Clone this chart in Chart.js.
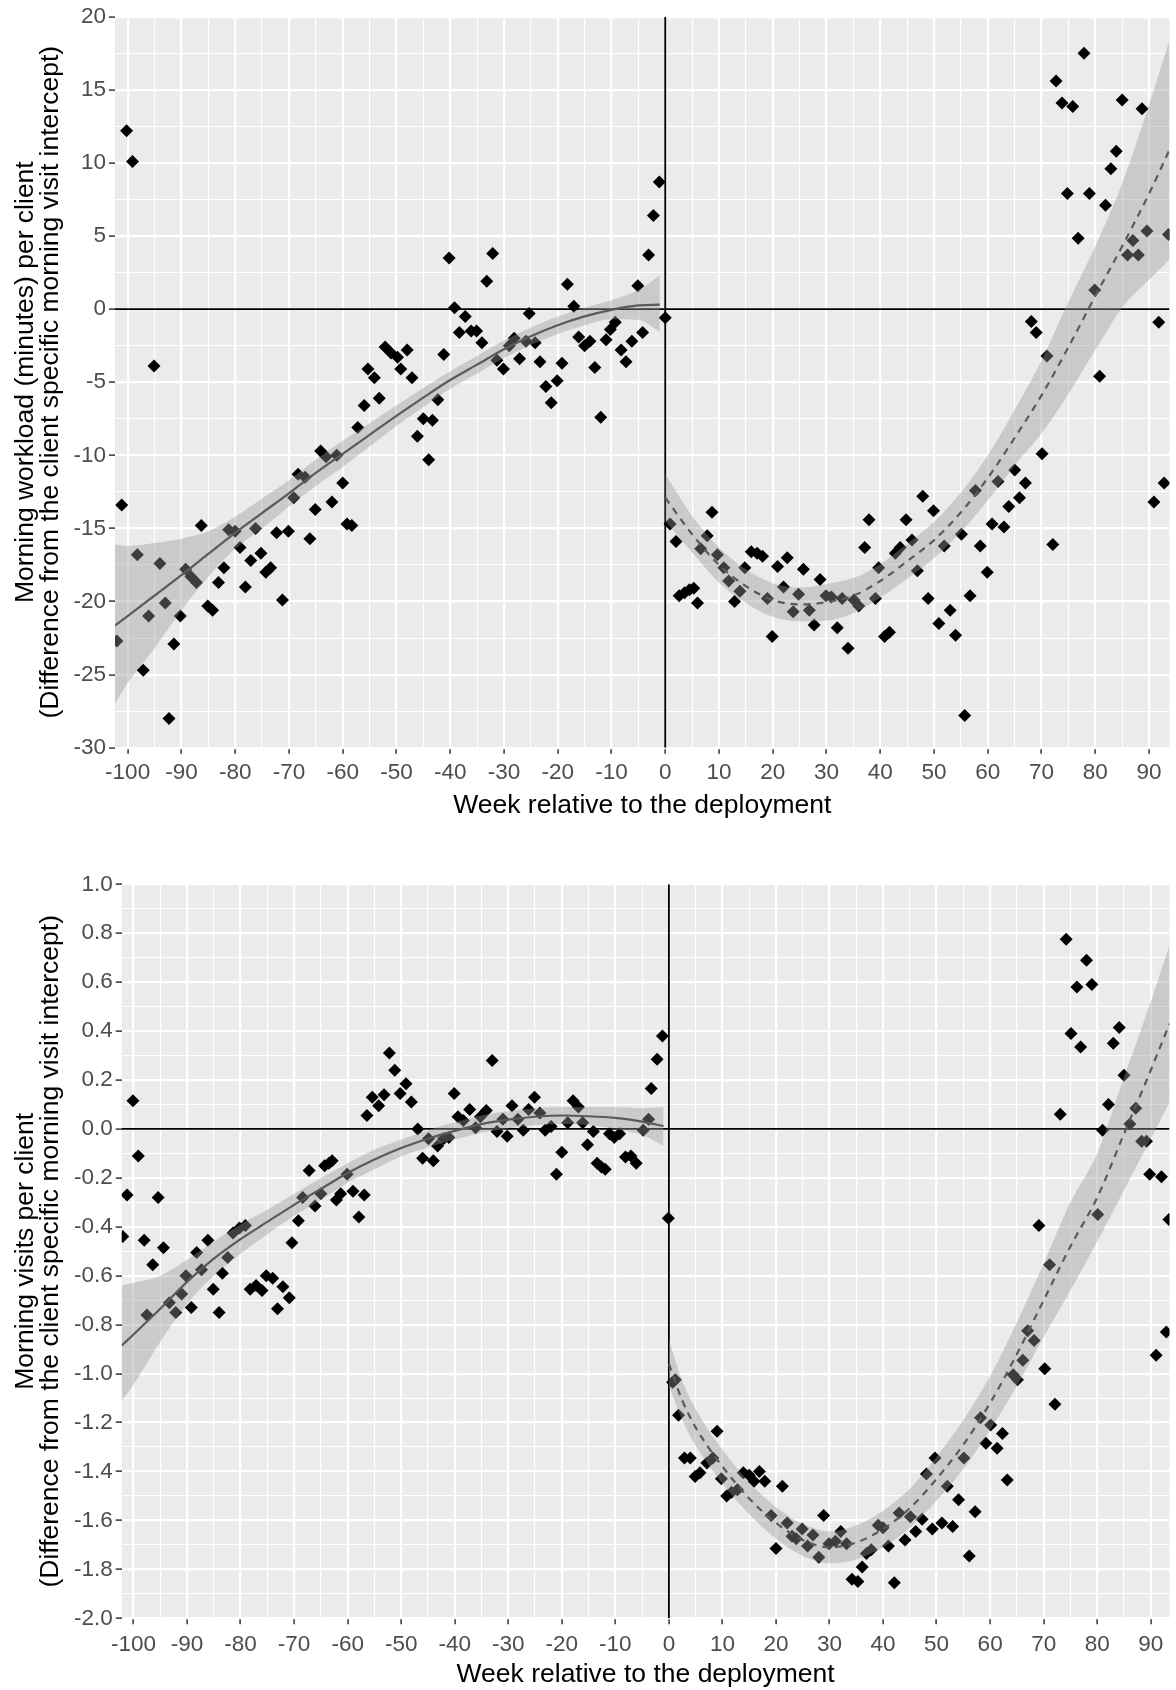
<!DOCTYPE html>
<html>
<head>
<meta charset="utf-8">
<script src="https://cdn.jsdelivr.net/npm/chart.js@4/dist/chart.umd.min.js"></script>
<style>
  body { margin: 0; background: #ffffff; }
  #wrap { position: relative; width: 1176px; height: 1690px; }
  canvas { position: absolute; left: 0; }
</style>
</head>
<body>
<div id="wrap">
  <canvas id="workloadChart" width="1176" height="830" style="top:0px"></canvas>
  <canvas id="visitsChart" width="1176" height="860" style="top:830px"></canvas>
</div>
<script>
// axis ticks (shared x axis: weeks relative to deployment)
const xMajorTicks = [-100, -90, -80, -70, -60, -50, -40, -30, -20, -10, 0, 10, 20, 30, 40, 50, 60, 70, 80, 90];
const xMinorTicks = [-95, -85, -75, -65, -55, -45, -35, -25, -15, -5, 5, 15, 25, 35, 45, 55, 65, 75, 85];
const workloadYTicks = [-30, -25, -20, -15, -10, -5, 0, 5, 10, 15, 20];
const workloadYMinor = [-27.5, -22.5, -17.5, -12.5, -7.5, -2.5, 2.5, 7.5, 12.5, 17.5];
const visitsYTicks = [-2.0, -1.8, -1.6, -1.4, -1.2, -1.0, -0.8, -0.6, -0.4, -0.2, 0.0, 0.2, 0.4, 0.6, 0.8, 1.0];
const visitsYMinor = [-1.9, -1.7, -1.5, -1.3, -1.1, -0.9, -0.7, -0.5, -0.3, -0.1, 0.1, 0.3, 0.5, 0.7, 0.9];

// --- morning workload: weekly points ---
const workloadPreWeeks = [
  -102.0, -101.1, -100.2, -99.1, -98.2, -97.1, -96.1, -95.1, -94.0, -93.0,
  -92.3, -91.4, -90.2, -89.2, -88.2, -87.2, -86.3, -85.1, -84.2, -83.1,
  -82.1, -81.2, -80.0, -79.1, -78.1, -77.1, -76.2, -75.2, -74.3, -73.4,
  -72.3, -71.2, -70.1, -69.1, -68.3, -67.0, -66.1, -65.1, -64.1, -63.1,
  -62.0, -61.1, -60.0, -59.2, -58.3, -57.2, -56.0, -55.3, -54.1, -53.2,
  -52.1, -51.0, -49.8, -49.2, -48.0, -47.1, -46.1, -45.0, -44.0, -43.3,
  -42.3, -41.2, -40.2, -39.2, -38.3, -37.2, -36.1, -35.1, -34.1, -33.2,
  -32.1, -31.3, -30.1, -29.0, -28.1, -27.1, -25.9, -25.3, -24.2, -23.3,
  -22.2, -21.2, -20.1, -19.2, -18.2, -17.0, -16.1, -15.0, -14.0, -13.1,
  -12.0, -11.0, -10.2, -9.3, -8.2, -7.3, -6.2, -5.1, -4.2, -3.1,
  -2.2, -1.1, 0.0];
const workloadPreValues = [
  -22.7, -13.4, 12.2, 10.1, -16.8, -24.7, -21.0, -3.9, -17.4, -20.1,
  -28.0, -22.9, -21.0, -17.8, -18.3, -18.7, -14.8, -20.3, -20.6, -18.7,
  -17.7, -15.1, -15.2, -16.3, -19.0, -17.2, -15.0, -16.7, -18.0, -17.7,
  -15.3, -19.9, -15.2, -12.9, -11.3, -11.5, -15.7, -13.7, -9.7, -10.1,
  -13.2, -10.0, -11.9, -14.7, -14.8, -8.1, -6.6, -4.1, -4.7, -6.1,
  -2.6, -3.0, -3.3, -4.1, -2.8, -4.7, -8.7, -7.5, -10.3, -7.6,
  -6.2, -3.1, 3.5, 0.1, -1.6, -0.5, -1.5, -1.5, -2.3, 1.9,
  3.8, -3.5, -4.1, -2.5, -2.0, -3.4, -2.2, -0.3, -2.3, -3.6,
  -5.3, -6.4, -4.9, -3.7, 1.7, 0.2, -1.9, -2.5, -2.2, -4.0,
  -7.4, -2.1, -1.4, -0.9, -2.8, -3.6, -2.2, 1.6, -1.6, 3.7,
  6.4, 8.7, -0.6];
const workloadPostWeeks = [
  0.9, 2.0, 2.6, 3.6, 4.5, 5.3, 6.0, 6.6, 7.8, 8.7,
  9.7, 10.9, 11.8, 12.9, 13.9, 14.8, 16.0, 17.1, 18.1, 19.0,
  19.9, 20.9, 22.0, 22.7, 23.8, 24.8, 25.7, 26.8, 27.7, 28.8,
  29.9, 30.9, 32.0, 32.9, 34.0, 35.1, 36.0, 37.1, 37.9, 39.1,
  39.7, 40.8, 41.7, 42.8, 43.7, 44.8, 45.9, 46.9, 47.9, 48.9,
  49.9, 50.9, 51.9, 53.0, 54.0, 55.1, 55.7, 56.7, 57.7, 58.6,
  59.9, 60.8, 61.9, 63.0, 63.9, 65.0, 65.9, 67.0, 68.1, 69.0,
  70.1, 71.0, 72.1, 72.7, 73.8, 74.8, 75.8, 76.8, 77.9, 78.9,
  79.9, 80.8, 81.9, 82.9, 83.9, 85.0, 86.0, 87.0, 88.0, 88.7,
  89.6, 90.9, 91.8, 92.8, 93.6];
const workloadPostValues = [
  -14.7, -15.9, -19.6, -19.4, -19.2, -19.1, -20.1, -16.4, -15.5, -13.9,
  -16.8, -17.7, -18.6, -20.0, -19.3, -17.7, -16.6, -16.7, -16.9, -19.8,
  -22.4, -17.6, -19.0, -17.0, -20.7, -19.5, -17.8, -20.6, -21.6, -18.5,
  -19.6, -19.7, -21.8, -19.8, -23.2, -19.9, -20.3, -16.3, -14.4, -19.8,
  -17.7, -22.4, -22.1, -16.7, -16.3, -14.4, -15.8, -17.9, -12.8, -19.8,
  -13.8, -21.5, -16.2, -20.6, -22.3, -15.4, -27.8, -19.6, -12.4, -16.2,
  -18.0, -14.7, -11.8, -14.9, -13.5, -11.0, -12.9, -11.9, -0.85, -1.6,
  -9.9, -3.2, -16.1, 15.6, 14.1, 7.9, 13.85, 4.85, 17.5, 7.9,
  1.3, -4.6, 7.1, 9.6, 10.8, 14.3, 3.7, 4.7, 3.7, 13.7,
  5.35, -13.2, -0.9, -11.9, 5.1];

// smoothed fits (line + confidence band)
const workloadFitPreWeeks = [-102.35, -100, -95, -90, -85, -80, -75, -70, -65, -60, -55, -50, -45, -40, -35, -30, -25, -20, -15, -10, -5, -1];
const workloadFitPre = [-21.65, -21.0, -19.6, -18.2, -16.75, -15.3, -13.95, -12.6, -11.2, -9.9, -8.6, -7.3, -6.05, -4.85, -3.8, -2.75, -1.85, -1.1, -0.5, -0.05, 0.25, 0.3];
const workloadBandPreLow = [-27.0, -25.6, -23.2, -20.6, -18.3, -16.4, -15.0, -13.5, -12.1, -10.8, -9.4, -8.0, -6.7, -5.45, -4.4, -3.35, -2.45, -1.7, -1.1, -0.7, -0.75, -1.55];
const workloadBandPreHigh = [-16.1, -16.2, -16.0, -15.7, -15.2, -14.2, -12.95, -11.7, -10.3, -9.0, -7.8, -6.6, -5.4, -4.25, -3.2, -2.15, -1.25, -0.5, 0.1, 0.6, 1.3, 2.3];
const workloadFitPostWeeks = [0, 5, 10, 15, 20, 25, 30, 35, 40, 45, 50, 55, 60, 65, 70, 75, 80, 85, 90, 93.8];
const workloadFitPost = [-12.9, -15.4, -17.5, -18.95, -19.9, -20.2, -20.05, -19.6, -18.6, -17.25, -15.8, -13.9, -11.55, -8.8, -5.9, -2.6, 0.9, 4.3, 7.9, 10.9];
const workloadBandPostLow = [-14.5, -16.65, -18.7, -20.1, -21.05, -21.35, -21.3, -20.8, -19.75, -18.45, -17.05, -15.25, -13.1, -10.7, -8.5, -5.8, -2.8, 0.1, 2.0, 3.4];
const workloadBandPostHigh = [-11.3, -14.15, -16.3, -17.8, -18.75, -19.05, -18.8, -18.4, -17.45, -16.05, -14.55, -12.55, -10.0, -6.9, -3.5, 0.5, 4.3, 8.6, 14.0, 18.4];

// --- morning visits: weekly points ---
const visitsPreWeeks = [
  -102.0, -101.2, -100.1, -99.1, -98.0, -97.5, -96.4, -95.4, -94.4, -93.3,
  -92.1, -91.0, -90.2, -89.2, -88.2, -87.3, -86.1, -85.1, -84.0, -83.4,
  -82.4, -81.4, -80.2, -79.1, -78.2, -77.1, -76.0, -75.2, -74.0, -73.1,
  -72.1, -70.9, -70.4, -69.2, -68.4, -67.2, -66.1, -65.0, -64.3, -63.5,
  -62.9, -62.1, -61.3, -60.1, -59.0, -57.9, -56.9, -56.4, -55.4, -54.2,
  -53.2, -52.2, -51.2, -50.2, -49.1, -48.1, -46.9, -46.0, -44.9, -44.0,
  -43.2, -42.1, -41.1, -40.1, -39.4, -38.4, -37.2, -36.1, -35.2, -34.1,
  -33.0, -32.1, -31.0, -30.2, -29.3, -28.2, -27.2, -26.2, -25.1, -24.1,
  -23.1, -22.0, -21.0, -20.0, -18.9, -17.9, -16.9, -16.1, -15.2, -14.1,
  -13.4, -12.6, -11.9, -11.1, -10.2, -9.2, -8.1, -7.1, -6.1, -4.8,
  -3.8, -3.3, -2.2, -1.2, -0.1];
const visitsPreValues = [
  -0.44, -0.27, 0.115, -0.11, -0.455, -0.76, -0.555, -0.28, -0.485, -0.71,
  -0.75, -0.675, -0.6, -0.73, -0.505, -0.575, -0.455, -0.655, -0.75, -0.59,
  -0.525, -0.425, -0.405, -0.395, -0.655, -0.64, -0.66, -0.6, -0.61, -0.735,
  -0.645, -0.69, -0.465, -0.375, -0.28, -0.17, -0.315, -0.265, -0.15, -0.14,
  -0.13, -0.29, -0.265, -0.185, -0.255, -0.36, -0.27, 0.055, 0.13, 0.095,
  0.14, 0.31, 0.24, 0.145, 0.185, 0.11, 0.0, -0.12, -0.04, -0.13,
  -0.07, -0.04, -0.035, 0.145, 0.05, 0.035, 0.08, 0.005, 0.05, 0.075,
  0.28, -0.01, 0.04, -0.03, 0.095, 0.04, -0.005, 0.08, 0.13, 0.065,
  -0.005, 0.01, -0.185, -0.095, 0.025, 0.115, 0.09, 0.025, -0.065, -0.01,
  -0.14, -0.155, -0.165, -0.02, -0.035, -0.02, -0.115, -0.11, -0.14, -0.005,
  0.04, 0.165, 0.285, 0.38, -0.365];
const visitsPostWeeks = [
  0.7, 1.2, 1.8, 2.9, 4.0, 4.9, 5.8, 7.1, 8.2, 9.0,
  9.8, 10.8, 11.7, 12.8, 13.9, 15.0, 15.9, 16.9, 17.9, 19.1,
  20.0, 21.2, 22.1, 23.0, 23.8, 24.9, 25.9, 26.9, 28.0, 28.9,
  29.9, 31.1, 32.1, 33.2, 34.2, 35.3, 36.1, 36.9, 37.8, 39.1,
  40.0, 41.0, 42.1, 43.0, 44.1, 45.1, 46.1, 47.3, 48.1, 49.2,
  49.7, 51.0, 52.0, 53.0, 54.1, 55.1, 56.1, 57.2, 58.2, 59.2,
  60.1, 61.3, 62.3, 63.2, 64.3, 65.1, 66.1, 67.0, 68.2, 69.1,
  70.2, 71.1, 72.1, 73.1, 74.2, 75.1, 76.2, 76.9, 78.0, 79.0,
  80.1, 81.0, 82.1, 83.0, 84.1, 85.0, 86.1, 87.2, 88.3, 89.2,
  89.8, 91.0, 92.0, 92.9, 93.4];
const visitsPostValues = [
  -1.035, -1.025, -1.17, -1.345, -1.345, -1.42, -1.405, -1.365, -1.345, -1.235,
  -1.43, -1.5, -1.485, -1.475, -1.405, -1.415, -1.44, -1.4, -1.44, -1.58,
  -1.715, -1.46, -1.61, -1.665, -1.675, -1.635, -1.705, -1.66, -1.75, -1.58,
  -1.695, -1.685, -1.645, -1.695, -1.84, -1.85, -1.79, -1.735, -1.72, -1.62,
  -1.63, -1.705, -1.855, -1.57, -1.68, -1.585, -1.645, -1.595, -1.41, -1.635,
  -1.345, -1.61, -1.46, -1.625, -1.515, -1.345, -1.745, -1.565, -1.18, -1.285,
  -1.21, -1.305, -1.245, -1.435, -1.005, -1.025, -0.945, -0.825, -0.865, -0.395,
  -0.98, -0.555, -1.125, 0.06, 0.775, 0.39, 0.58, 0.335, 0.69, 0.59,
  -0.35, -0.005, 0.1, 0.35, 0.415, 0.22, 0.02, 0.085, -0.05, -0.05,
  -0.185, -0.925, -0.195, -0.83, -0.37];

const visitsFitPreWeeks = [-102.2, -100, -95, -90, -85, -80, -75, -70, -65, -60, -55, -50, -45, -40, -35, -30, -25, -20, -15, -10, -5, -1];
const visitsFitPre = [-0.885, -0.84, -0.735, -0.625, -0.53, -0.45, -0.38, -0.31, -0.245, -0.18, -0.125, -0.078, -0.04, -0.008, 0.02, 0.038, 0.05, 0.055, 0.052, 0.045, 0.03, 0.012];
const visitsBandPreLow = [-1.11, -1.045, -0.87, -0.715, -0.6, -0.51, -0.43, -0.355, -0.29, -0.22, -0.165, -0.113, -0.075, -0.043, -0.015, 0.003, 0.015, 0.02, 0.015, 0.0, -0.025, -0.07];
const visitsBandPreHigh = [-0.64, -0.63, -0.6, -0.535, -0.46, -0.39, -0.33, -0.265, -0.2, -0.14, -0.085, -0.043, -0.005, 0.027, 0.055, 0.073, 0.085, 0.09, 0.09, 0.09, 0.085, 0.09];
const visitsFitPostWeeks = [0, 2.5, 5, 7.5, 10, 15, 20, 25, 30, 35, 40, 45, 50, 55, 60, 65, 70, 75, 80, 85, 90, 93.5];
const visitsFitPost = [-0.96, -1.11, -1.22, -1.305, -1.38, -1.51, -1.61, -1.68, -1.71, -1.69, -1.635, -1.55, -1.43, -1.29, -1.12, -0.92, -0.70, -0.48, -0.28, -0.02, 0.24, 0.43];
const visitsBandPostLow = [-1.05, -1.19, -1.295, -1.375, -1.45, -1.575, -1.675, -1.745, -1.775, -1.76, -1.71, -1.63, -1.52, -1.39, -1.23, -1.05, -0.85, -0.66, -0.46, -0.25, -0.04, 0.11];
const visitsBandPostHigh = [-0.86, -1.03, -1.145, -1.235, -1.31, -1.445, -1.545, -1.615, -1.645, -1.62, -1.56, -1.47, -1.34, -1.19, -1.01, -0.79, -0.55, -0.30, -0.10, 0.21, 0.52, 0.75];

Chart.defaults.font.family = "'Liberation Sans', Arial, sans-serif";

const BAND = 'rgba(153,153,153,0.4)';
const FIT = '#5a5a5a';

function pts(xs, ys) {
  return xs.map((x, i) => ({ x: x, y: ys[i] }));
}
function near(list, v) {
  return list.some(m => Math.abs(m - v) < 1e-6);
}

// grey ggplot panel behind the grid
const panelBg = {
  id: 'panelBg',
  beforeDraw(chart) {
    const { ctx, chartArea: a } = chart;
    ctx.save();
    ctx.fillStyle = '#ebebeb';
    ctx.fillRect(a.left, a.top, a.right - a.left, a.bottom - a.top);
    ctx.restore();
  }
};

function lineSet(data, extra) {
  return Object.assign({
    data: data, showLine: true, pointRadius: 0, borderWidth: 2.2,
    borderColor: FIT, cubicInterpolationMode: 'monotone', clip: 0, order: 0
  }, extra);
}
function bandSet(data, fill) {
  return {
    data: data, showLine: true, pointRadius: 0, borderWidth: 0,
    borderColor: 'rgba(0,0,0,0)', backgroundColor: BAND, fill: fill,
    cubicInterpolationMode: 'monotone', clip: 0, order: 1
  };
}
function pointSet(data) {
  return {
    data: data, pointStyle: 'rectRot', pointRadius: 6.5, pointBorderWidth: 0,
    pointBackgroundColor: '#000000', clip: 0, order: 2
  };
}

function makeChart(id, o) {
  const allX = xMinorTicks.concat(xMajorTicks).sort((a, b) => a - b);
  const allY = o.yMinor.concat(o.yMajor).sort((a, b) => a - b);

  new Chart(document.getElementById(id), {
    type: 'scatter',
    data: {
      datasets: [
        lineSet(pts(o.fitPreX, o.fitPre)),
        lineSet(pts(o.fitPostX, o.fitPost), { borderDash: [7, 6] }),
        bandSet(pts(o.fitPreX, o.bandPreLow), false),
        bandSet(pts(o.fitPreX, o.bandPreHigh), '-1'),
        bandSet(pts(o.fitPostX, o.bandPostLow), false),
        bandSet(pts(o.fitPostX, o.bandPostHigh), '-1'),
        pointSet(pts(o.preX, o.preY)),
        pointSet(pts(o.postX, o.postY)),
        lineSet([{ x: 0, y: o.yMin }, { x: 0, y: o.yMax }], { borderColor: '#000', borderWidth: 1.8, order: 3 }),
        lineSet([{ x: o.xMin, y: 0 }, { x: o.xMax, y: 0 }], { borderColor: '#000', borderWidth: 1.8, order: 3 })
      ]
    },
    options: {
      responsive: false,
      animation: false,
      events: [],
      layout: { padding: { top: o.padTop, right: 0, bottom: 0, left: 0 } },
      plugins: { legend: { display: false }, tooltip: { enabled: false } },
      scales: {
        x: {
          type: 'linear',
          min: o.xMin,
          max: o.xMax,
          afterBuildTicks: s => { s.ticks = allX.map(v => ({ value: v })); },
          afterFit: s => { s.height = o.xAxisHeight; },
          border: { display: false },
          grid: {
            color: '#ffffff',
            lineWidth: c => (c.tick && near(xMajorTicks, c.tick.value)) ? 2.2 : 1.1,
            drawTicks: true,
            tickLength: 6,
            tickWidth: 1.5,
            tickColor: c => (c.tick && near(xMajorTicks, c.tick.value)) ? '#333333' : 'rgba(0,0,0,0)'
          },
          ticks: {
            autoSkip: false,
            maxRotation: 0,
            minRotation: 0,
            padding: o.xTickPad,
            color: '#4d4d4d',
            font: { size: 22.5 },
            callback: v => near(xMajorTicks, v) ? String(v) : ''
          },
          title: {
            display: true,
            text: 'Week relative to the deployment',
            color: '#000000',
            font: { size: 26.5, lineHeight: 1 },
            padding: { top: 0, bottom: o.xTitlePad }
          }
        },
        y: {
          type: 'linear',
          min: o.yMin,
          max: o.yMax,
          afterBuildTicks: s => { s.ticks = allY.map(v => ({ value: v })); },
          afterFit: s => { s.width = o.yAxisWidth; },
          border: { display: false },
          grid: {
            color: '#ffffff',
            lineWidth: c => (c.tick && near(o.yMajor, c.tick.value)) ? 2.2 : 1.1,
            drawTicks: true,
            tickLength: 6,
            tickWidth: 1.5,
            tickColor: c => (c.tick && near(o.yMajor, c.tick.value)) ? '#333333' : 'rgba(0,0,0,0)'
          },
          ticks: {
            autoSkip: false,
            padding: 3,
            color: '#4d4d4d',
            font: { size: 22.5 },
            callback: v => near(o.yMajor, v) ? o.fmt(v) : ''
          },
          title: {
            display: true,
            text: o.yTitle,
            color: '#000000',
            font: { size: 26.5, lineHeight: '25px' },
            padding: { top: 13.3, bottom: 0 }
          }
        }
      }
    },
    plugins: [panelBg]
  });
}

makeChart('workloadChart', {
  xMin: -102.35, xMax: 93.8, yMin: -30, yMax: 20,
  yMajor: workloadYTicks, yMinor: workloadYMinor,
  fmt: v => String(v),
  padTop: 16.7, xAxisHeight: 82.3, yAxisWidth: 115, xTickPad: 5.5, xTitlePad: 11.5,
  yTitle: ['Morning workload (minutes) per client', '(Difference from the client specific morning visit intercept)'],
  preX: workloadPreWeeks, preY: workloadPreValues,
  postX: workloadPostWeeks, postY: workloadPostValues,
  fitPreX: workloadFitPreWeeks, fitPre: workloadFitPre,
  bandPreLow: workloadBandPreLow, bandPreHigh: workloadBandPreHigh,
  fitPostX: workloadFitPostWeeks, fitPost: workloadFitPost,
  bandPostLow: workloadBandPostLow, bandPostHigh: workloadBandPostHigh
});

makeChart('visitsChart', {
  xMin: -102.2, xMax: 93.5, yMin: -2, yMax: 1,
  yMajor: visitsYTicks, yMinor: visitsYMinor,
  fmt: v => v.toFixed(1),
  padTop: 54.3, xAxisHeight: 71.7, yAxisWidth: 121.7, xTickPad: 6.5, xTitlePad: 2.5,
  yTitle: ['Morning visits per client', '(Difference from the client specific morning visit intercept)'],
  preX: visitsPreWeeks, preY: visitsPreValues,
  postX: visitsPostWeeks, postY: visitsPostValues,
  fitPreX: visitsFitPreWeeks, fitPre: visitsFitPre,
  bandPreLow: visitsBandPreLow, bandPreHigh: visitsBandPreHigh,
  fitPostX: visitsFitPostWeeks, fitPost: visitsFitPost,
  bandPostLow: visitsBandPostLow, bandPostHigh: visitsBandPostHigh
});
</script>
</body>
</html>
